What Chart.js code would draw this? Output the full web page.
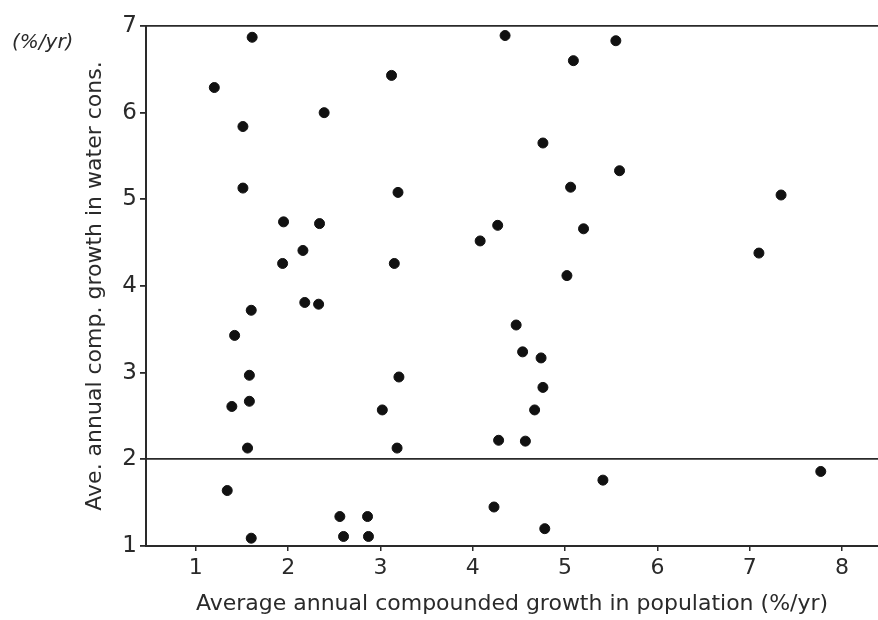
<!DOCTYPE html>
<html>
<head>
<meta charset="utf-8">
<script src="https://cdn.jsdelivr.net/npm/chart.js@4"></script>
<style>
  html, body { margin: 0; padding: 0; background: #fff; overflow: hidden; }
  #wrap { position: relative; width: 878px; height: 620px; }
  #scatter { display: block; }
  #unit { position: absolute; left: 12px; top: 29px; font: italic 20px "DejaVu Sans", sans-serif; color: #2a2a2a; }
</style>
</head>
<body>
<div id="wrap">
  <canvas id="scatter" width="878" height="620"></canvas>
  <div id="unit">(%/yr)</div>
</div>
<script>
// population growth (x) vs water consumption growth (y), both in %/yr
const popGrowth = [
    1.61, 1.20, 3.12, 1.51, 2.39, 1.51, 3.19, 1.95, 2.34, 2.16, 1.94, 3.15, 2.18, 2.33, 1.60,
    1.42, 1.58, 1.39, 1.58, 1.56, 3.20, 3.02, 3.18, 1.34, 1.60, 2.56, 2.60, 2.86, 2.87,
    4.35, 5.55, 5.09, 4.76, 5.59, 5.06, 7.34, 4.27, 5.20, 4.08, 7.10, 5.02,
    4.47, 4.54, 4.74, 4.76, 4.67, 4.28, 4.57, 5.41, 7.77, 4.23, 4.78
];
const waterGrowth = [
    6.87, 6.29, 6.43, 5.84, 6.00, 5.13, 5.08, 4.74, 4.72, 4.41, 4.26, 4.26, 3.81, 3.79, 3.72,
    3.43, 2.97, 2.61, 2.67, 2.13, 2.95, 2.57, 2.13, 1.64, 1.09, 1.34, 1.11, 1.34, 1.11,
    6.89, 6.83, 6.60, 5.65, 5.33, 5.14, 5.05, 4.70, 4.66, 4.52, 4.38, 4.12,
    3.55, 3.24, 3.17, 2.83, 2.57, 2.22, 2.21, 1.76, 1.86, 1.45, 1.20
];
const xTicks = [1, 2, 3, 4, 5, 6, 7, 8];
const yTicks = [1, 2, 3, 4, 5, 6, 7];
const refLines = [2, 7]; // horizontal rules drawn across the plot

const ink = '#2a2a2a';
const points = popGrowth.map((x, i) => ({ x: x, y: waterGrowth[i] }));

new Chart(document.getElementById('scatter'), {
    type: 'scatter',
    data: {
        datasets: [{
            data: points,
            backgroundColor: '#111',
            borderColor: '#111',
            pointRadius: 5,
            pointHoverRadius: 5
        }]
    },
    options: {
        responsive: false,
        animation: false,
        layout: { autoPadding: false, padding: { top: 26, right: 0, bottom: 0, left: 0 } },
        plugins: { legend: { display: false }, tooltip: { enabled: false } },
        scales: {
            x: {
                type: 'linear', min: 0.46, max: 8.39,
                afterBuildTicks: s => { s.ticks = xTicks.map(v => ({ value: v })); },
                afterFit: s => { s.height = 74; s.paddingLeft = 0; s.paddingRight = 0; },
                border: { display: true, color: ink, width: 2 },
                grid: { drawOnChartArea: false, color: ink, tickLength: 5, lineWidth: 1.5 },
                ticks: { color: ink, padding: 4, font: { family: 'DejaVu Sans', size: 22 } },
                title: {
                    display: true, color: ink, padding: { top: 0, bottom: 3 },
                    text: 'Average annual compounded growth in population (%/yr)',
                    font: { family: 'DejaVu Sans', size: 22 }
                }
            },
            y: {
                type: 'linear', min: 1, max: 7,
                afterBuildTicks: s => { s.ticks = yTicks.map(v => ({ value: v })); },
                afterFit: s => { s.width = 146; },
                border: { display: true, color: ink, width: 2 },
                grid: {
                    color: c => refLines.includes(c.tick && c.tick.value) ? ink : 'rgba(0,0,0,0)',
                    tickColor: ink, tickLength: 6, lineWidth: 1.8
                },
                ticks: { color: ink, padding: 3, font: { family: 'DejaVu Sans', size: 23 } },
                title: {
                    display: true, color: ink, padding: { top: 82, bottom: 0 },
                    text: 'Ave. annual comp. growth in water cons.',
                    font: { family: 'DejaVu Sans', size: 22 }
                }
            }
        }
    }
});
</script>
</body>
</html>
